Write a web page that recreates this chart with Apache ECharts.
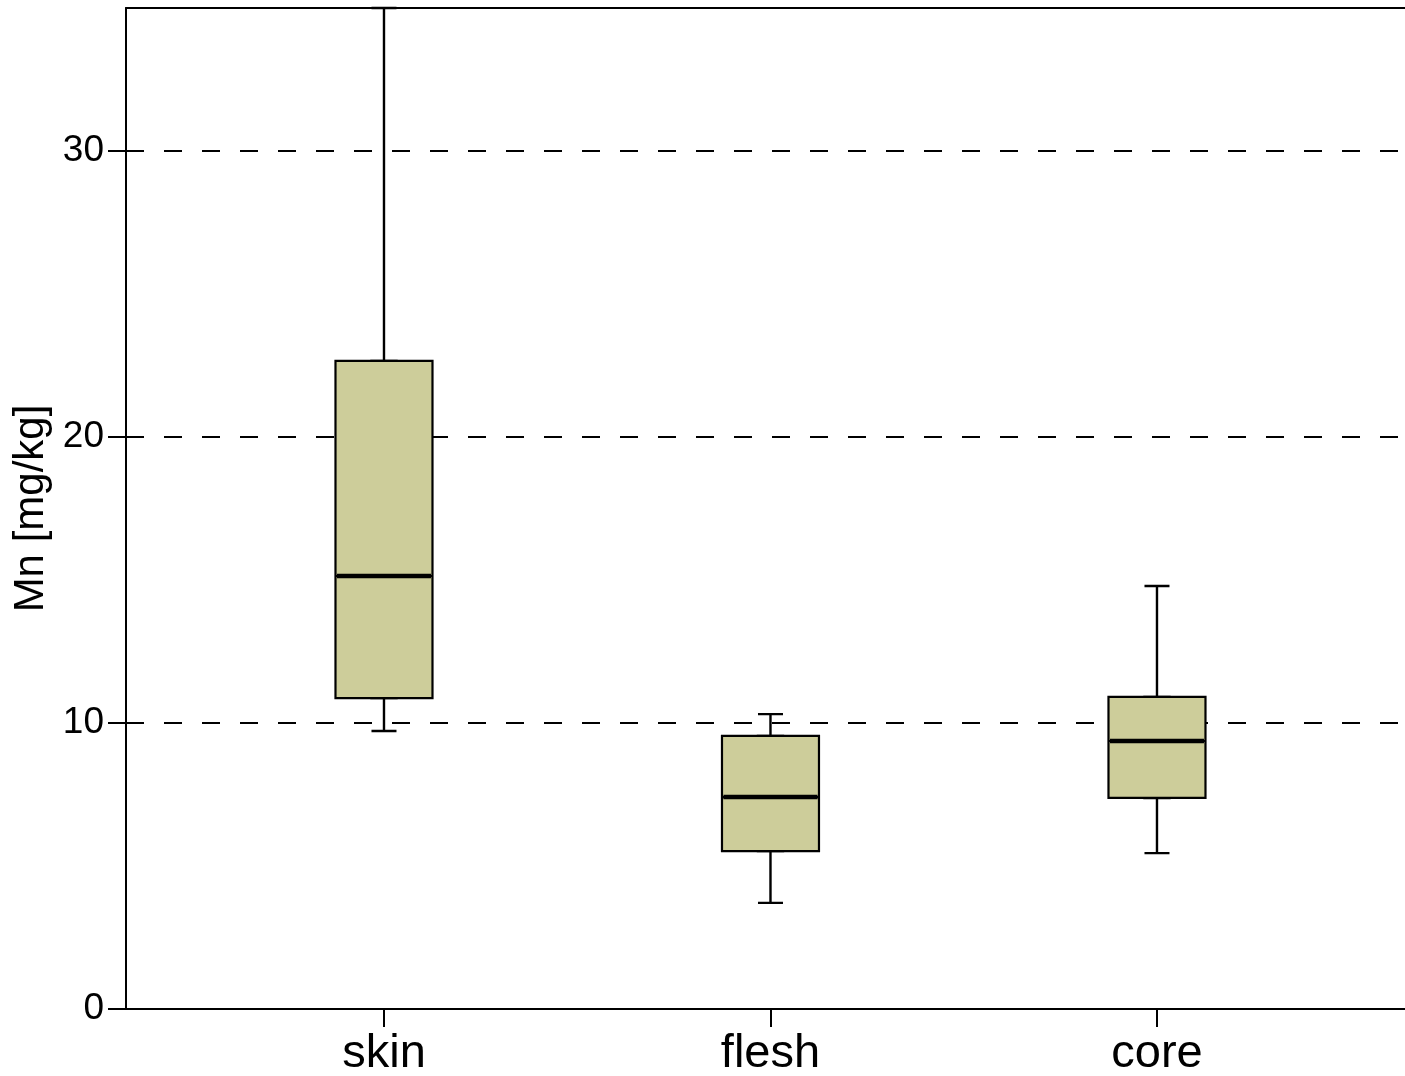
<!DOCTYPE html>
<html>
<head>
<meta charset="utf-8">
<script src="https://cdn.jsdelivr.net/npm/echarts@6/dist/echarts.min.js"></script>
<style>
html,body{margin:0;padding:0;background:#fff;}
#chart{width:1405px;height:1076px;}
</style>
</head>
<body>
<div id="chart"></div>
<script>
// ---- data ----
var categories = ['skin', 'flesh', 'core'];
var positions = [1, 2, 3];
var mins    = [9.72, 3.71, 5.45];
var q1s     = [10.87, 5.52, 7.38];
var medians = [15.14, 7.41, 9.37];
var q3s     = [22.66, 9.55, 10.91];
var maxs    = [35.0, 10.31, 14.79];
var yTicks  = [0, 10, 20, 30];
var yName   = 'Mn [mg/kg]';

// ---- build series data ----
var whiskerData = [], boxData = [], medianData = [];
for (var i = 0; i < categories.length; i++) {
  whiskerData.push([positions[i], mins[i], q1s[i], medians[i], q3s[i], maxs[i]]);
  boxData.push([positions[i], q1s[i], q1s[i], medians[i], q3s[i], q3s[i]]);
  medianData.push([positions[i], medians[i], medians[i], medians[i], medians[i], medians[i]]);
}

var FONT = '"Liberation Sans", Arial, Helvetica, sans-serif';
var FILL = '#cdcd9a';

var xBase = {
  type: 'value', min: 0.3325, max: 3.6417, gridIndex: 0
};

var chart = echarts.init(document.getElementById('chart'), null, {renderer: 'canvas'});
chart.setOption({
  animation: false,
  backgroundColor: '#fff',
  grid: { left: 126, right: 0, top: 8, bottom: 67, containLabel: false, outerBoundsMode: 'none' },
  xAxis: [
    Object.assign({}, xBase, {
      position: 'bottom',
      axisLine: { show: true, lineStyle: { color: '#000', width: 2 } },
      axisTick: { show: true, customValues: positions, length: 18, inside: false, lineStyle: { color: '#000', width: 2 } },
      axisLabel: {
        show: true, customValues: positions, margin: 22,
        fontSize: 47, fontFamily: FONT, color: '#000',
        formatter: function (v) { return categories[Math.round(v) - 1] || ''; }
      },
      splitLine: { show: false }
    }),
    Object.assign({}, xBase, {
      position: 'top',
      axisLine: { show: true, onZero: false, lineStyle: { color: '#000', width: 2 } },
      axisTick: { show: false },
      axisLabel: { show: false },
      splitLine: { show: false }
    }),
    Object.assign({}, xBase, {
      show: false, position: 'bottom', offset: 0
    })
  ],
  yAxis: {
    type: 'value', min: 0, max: 35,
    name: yName, nameLocation: 'middle', nameRotate: 90, nameGap: 68,
    nameTextStyle: { fontSize: 42, fontFamily: FONT, color: '#000' },
    axisLine: { show: true, lineStyle: { color: '#000', width: 2 } },
    axisTick: { show: true, customValues: yTicks, length: 18, inside: false, lineStyle: { color: '#000', width: 2 } },
    axisLabel: { show: true, customValues: yTicks, margin: 22, fontSize: 37, fontFamily: FONT, color: '#000', padding: [14, 0, 0, 0] },
    splitLine: { show: true, lineStyle: { color: '#000', width: 2, type: [18, 20] } }
  },
  series: [
    {
      type: 'boxplot', xAxisIndex: 1, yAxisIndex: 0, z: 2,
      encode: { x: 0, y: [1, 2, 3, 4, 5] },
      boxWidth: [25, 25],
      itemStyle: { color: FILL, borderColor: '#000', borderWidth: 2.4 },
      data: whiskerData
    },
    {
      type: 'boxplot', xAxisIndex: 0, yAxisIndex: 0, z: 3,
      encode: { x: 0, y: [1, 2, 3, 4, 5] },
      boxWidth: [97, 97],
      itemStyle: { color: FILL, borderColor: '#000', borderWidth: 2.2 },
      data: boxData
    },
    {
      type: 'boxplot', xAxisIndex: 2, yAxisIndex: 0, z: 4,
      encode: { x: 0, y: [1, 2, 3, 4, 5] },
      boxWidth: [94, 94],
      itemStyle: { color: '#000', borderColor: '#000', borderWidth: 4.5 },
      data: medianData
    }
  ]
});
</script>
</body>
</html>
